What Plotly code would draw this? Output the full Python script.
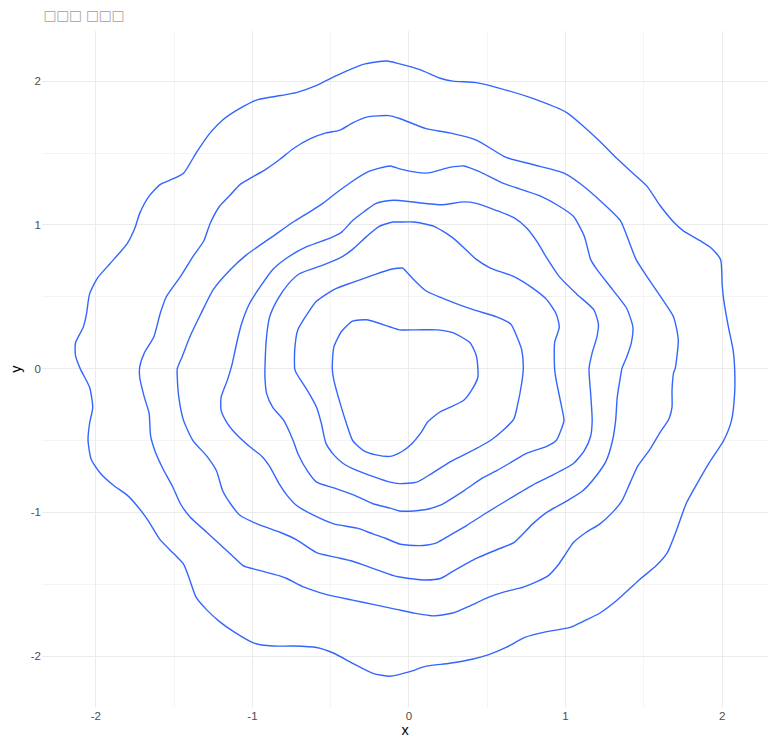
import plotly.graph_objects as go

# Contour levels (x, y) pairs, outermost first
contour_1 = [
    (-0.06, 2.12), (0.07, 2.08), (0.20, 2.02), (0.28, 2.00), (0.43, 1.99), (0.58, 1.95),
    (0.79, 1.88), (1.01, 1.78), (1.11, 1.69), (1.22, 1.58), (1.33, 1.46), (1.43, 1.36),
    (1.52, 1.27), (1.60, 1.14), (1.69, 1.02), (1.75, 0.96), (1.86, 0.89), (1.93, 0.84),
    (1.99, 0.76), (2.00, 0.59), (2.01, 0.48), (2.04, 0.29), (2.07, 0.13), (2.08, 0.00),
    (2.08, -0.17), (2.06, -0.36), (2.01, -0.50), (1.92, -0.65), (1.84, -0.80), (1.77, -0.94),
    (1.71, -1.12), (1.65, -1.28), (1.58, -1.37), (1.47, -1.47), (1.33, -1.61), (1.22, -1.70),
    (1.11, -1.76), (1.03, -1.80), (0.88, -1.83), (0.74, -1.87), (0.62, -1.94), (0.51, -1.99),
    (0.41, -2.02), (0.26, -2.05), (0.11, -2.07), (0.00, -2.11),
    (-0.12, -2.14), (-0.23, -2.12), (-0.36, -2.05), (-0.48, -1.98), (-0.59, -1.94), (-0.74, -1.93),
    (-0.87, -1.93), (-0.99, -1.91), (-1.12, -1.83), (-1.21, -1.76), (-1.29, -1.68), (-1.36, -1.59),
    (-1.40, -1.47), (-1.44, -1.36), (-1.50, -1.29), (-1.59, -1.19), (-1.67, -1.05), (-1.74, -0.95),
    (-1.80, -0.88), (-1.89, -0.81), (-1.97, -0.73), (-2.03, -0.63), (-2.05, -0.50), (-2.04, -0.38),
    (-2.02, -0.27), (-2.04, -0.13), (-2.10, 0.00),
    (-2.13, 0.09), (-2.13, 0.18), (-2.08, 0.29), (-2.06, 0.38), (-2.04, 0.52), (-1.99, 0.63),
    (-1.91, 0.73), (-1.80, 0.87), (-1.75, 0.98), (-1.72, 1.08), (-1.66, 1.20), (-1.59, 1.28),
    (-1.53, 1.31), (-1.44, 1.36), (-1.36, 1.50), (-1.27, 1.64), (-1.19, 1.73), (-1.08, 1.81),
    (-0.97, 1.87), (-0.82, 1.90), (-0.72, 1.92), (-0.59, 1.97), (-0.50, 2.02), (-0.40, 2.07),
    (-0.28, 2.12), (-0.14, 2.14),
]

contour_2 = [
    (-0.06, 1.74), (0.11, 1.67), (0.26, 1.64), (0.43, 1.59), (0.62, 1.47), (0.79, 1.42),
    (0.99, 1.36), (1.09, 1.29), (1.22, 1.17), (1.35, 1.03), (1.41, 0.87), (1.45, 0.76),
    (1.52, 0.64), (1.62, 0.48), (1.69, 0.36), (1.72, 0.20), (1.70, 0.00),
    (1.69, -0.03), (1.68, -0.15), (1.68, -0.27), (1.66, -0.35), (1.60, -0.45), (1.54, -0.56),
    (1.46, -0.68), (1.41, -0.80), (1.36, -0.92), (1.30, -1.00), (1.22, -1.08), (1.13, -1.14),
    (1.05, -1.21), (1.00, -1.29), (0.95, -1.37), (0.89, -1.44), (0.82, -1.48), (0.73, -1.52),
    (0.62, -1.55), (0.51, -1.59), (0.39, -1.65), (0.28, -1.70), (0.16, -1.72), (0.03, -1.70),
    (-0.08, -1.675),
    (-0.23, -1.64), (-0.36, -1.61), (-0.53, -1.57), (-0.67, -1.52), (-0.78, -1.46),
    (-0.83, -1.44), (-0.97, -1.40), (-1.06, -1.37), (-1.13, -1.30), (-1.21, -1.22), (-1.29, -1.14),
    (-1.40, -1.03), (-1.46, -0.94), (-1.51, -0.82), (-1.57, -0.70), (-1.62, -0.58), (-1.65, -0.47),
    (-1.66, -0.31), (-1.69, -0.20), (-1.72, -0.06),
    (-1.72, 0.01), (-1.69, 0.11), (-1.63, 0.22), (-1.59, 0.38), (-1.55, 0.50), (-1.46, 0.64),
    (-1.38, 0.78), (-1.31, 0.89), (-1.27, 1.01), (-1.21, 1.13), (-1.14, 1.21), (-1.08, 1.28),
    (-1.02, 1.32), (-0.91, 1.39), (-0.82, 1.46), (-0.74, 1.53), (-0.63, 1.60), (-0.53, 1.64),
    (-0.44, 1.66), (-0.36, 1.71), (-0.27, 1.75), (-0.13, 1.76),
]

contour_3 = [
    (-0.06, 1.39), (0.11, 1.36), (0.26, 1.40), (0.35, 1.41), (0.45, 1.37), (0.60, 1.29),
    (0.84, 1.20), (0.96, 1.13), (1.05, 1.06), (1.12, 0.92), (1.16, 0.76), (1.20, 0.69),
    (1.30, 0.55), (1.39, 0.42), (1.43, 0.29), (1.42, 0.18), (1.39, 0.08), (1.36, 0.00),
    (1.35, -0.06), (1.33, -0.20), (1.32, -0.36), (1.30, -0.50), (1.26, -0.64), (1.20, -0.74),
    (1.11, -0.85), (1.01, -0.92), (0.88, -1.00), (0.79, -1.08), (0.67, -1.21), (0.56, -1.26),
    (0.43, -1.32), (0.28, -1.41), (0.20, -1.46), (0.10, -1.47), (-0.06, -1.45),
    (-0.10, -1.44), (-0.23, -1.39), (-0.36, -1.34), (-0.48, -1.31), (-0.59, -1.28), (-0.72, -1.19),
    (-0.82, -1.14), (-0.97, -1.08), (-1.08, -1.02), (-1.14, -0.94), (-1.19, -0.85), (-1.23, -0.71),
    (-1.29, -0.61), (-1.38, -0.50), (-1.44, -0.36), (-1.47, -0.20), (-1.48, -0.06),
    (-1.48, 0.00), (-1.45, 0.08), (-1.40, 0.22), (-1.33, 0.38), (-1.25, 0.55), (-1.14, 0.69),
    (-1.04, 0.79), (-0.87, 0.92), (-0.74, 1.02), (-0.65, 1.08), (-0.55, 1.15), (-0.48, 1.21),
    (-0.38, 1.29), (-0.26, 1.37), (-0.12, 1.41),
]

contour_4 = [
    (-0.06, 1.17), (0.20, 1.14), (0.35, 1.16), (0.43, 1.15), (0.56, 1.10), (0.67, 1.05),
    (0.75, 0.98), (0.82, 0.88), (0.88, 0.77), (0.96, 0.64), (1.07, 0.52), (1.18, 0.41),
    (1.21, 0.31), (1.20, 0.22), (1.17, 0.11), (1.15, 0.00),
    (1.16, -0.17), (1.17, -0.36), (1.16, -0.47), (1.12, -0.57), (1.05, -0.66), (0.90, -0.75),
    (0.79, -0.81), (0.65, -0.90), (0.47, -1.02), (0.37, -1.09), (0.26, -1.16), (0.18, -1.21),
    (0.09, -1.23), (0.03, -1.23), (-0.06, -1.22),
    (-0.15, -1.18), (-0.23, -1.15), (-0.33, -1.11), (-0.48, -1.08), (-0.59, -1.03), (-0.72, -0.95),
    (-0.78, -0.88), (-0.83, -0.80), (-0.89, -0.68), (-0.94, -0.61), (-1.02, -0.54), (-1.10, -0.46),
    (-1.16, -0.38), (-1.20, -0.29), (-1.20, -0.20), (-1.16, -0.08), (-1.13, 0.03),
    (-1.10, 0.18), (-1.07, 0.31), (-1.02, 0.45), (-0.95, 0.57), (-0.87, 0.69), (-0.78, 0.77),
    (-0.65, 0.85), (-0.50, 0.91), (-0.43, 0.95), (-0.36, 1.03), (-0.29, 1.09), (-0.21, 1.15),
    (-0.12, 1.17),
]

contour_5 = [
    (-0.06, 1.02), (0.03, 1.02), (0.16, 0.99), (0.28, 0.91), (0.39, 0.80), (0.43, 0.76),
    (0.52, 0.70), (0.67, 0.64), (0.79, 0.56), (0.88, 0.48), (0.94, 0.38), (0.96, 0.29),
    (0.93, 0.18), (0.93, 0.00),
    (0.94, -0.08), (0.97, -0.24), (0.99, -0.36), (0.97, -0.43), (0.94, -0.50), (0.88, -0.54),
    (0.75, -0.59), (0.67, -0.64), (0.56, -0.71), (0.47, -0.76), (0.35, -0.85), (0.20, -0.95),
    (0.11, -0.98), (0.03, -0.99), (-0.06, -0.99),
    (-0.12, -0.97), (-0.23, -0.94), (-0.33, -0.89), (-0.48, -0.83), (-0.59, -0.79), (-0.65, -0.71),
    (-0.71, -0.59), (-0.74, -0.50), (-0.80, -0.36), (-0.87, -0.27), (-0.91, -0.17), (-0.92, -0.06),
    (-0.92, 0.00), (-0.91, 0.22), (-0.89, 0.36), (-0.84, 0.48), (-0.77, 0.59), (-0.70, 0.66),
    (-0.55, 0.72), (-0.44, 0.77), (-0.36, 0.83), (-0.27, 0.92), (-0.19, 0.99), (-0.10, 1.02),
]

contour_6 = [
    (-0.04, 0.70), (0.03, 0.62), (0.11, 0.54), (0.26, 0.47), (0.41, 0.41), (0.56, 0.36),
    (0.65, 0.31), (0.69, 0.22), (0.72, 0.13), (0.73, 0.00),
    (0.72, -0.10), (0.69, -0.27), (0.67, -0.35), (0.61, -0.42), (0.52, -0.50), (0.37, -0.59),
    (0.26, -0.65), (0.13, -0.74), (0.05, -0.79), (-0.06, -0.80),
    (-0.12, -0.79), (-0.23, -0.75), (-0.33, -0.71), (-0.42, -0.66), (-0.48, -0.60), (-0.53, -0.52),
    (-0.56, -0.38), (-0.59, -0.27), (-0.65, -0.15), (-0.72, -0.03),
    (-0.73, 0.00), (-0.73, 0.13), (-0.71, 0.27), (-0.65, 0.38), (-0.59, 0.47), (-0.48, 0.55),
    (-0.36, 0.60), (-0.23, 0.65), (-0.12, 0.69), (-0.05, 0.70),
]

contour_7 = [
    (-0.06, 0.27), (0.05, 0.27), (0.18, 0.27), (0.28, 0.25), (0.39, 0.18), (0.43, 0.09),
    (0.44, 0.00), (0.44, -0.06), (0.40, -0.15), (0.35, -0.22), (0.26, -0.27), (0.20, -0.30),
    (0.12, -0.37), (0.08, -0.44), (0.02, -0.52), (-0.05, -0.58),
    (-0.12, -0.61), (-0.21, -0.60), (-0.29, -0.57), (-0.36, -0.50), (-0.40, -0.38),
    (-0.44, -0.24), (-0.48, -0.08), (-0.49, 0.00), (-0.48, 0.15), (-0.43, 0.26), (-0.36, 0.33),
    (-0.27, 0.34), (-0.12, 0.29),
]

contours = [contour_1, contour_2, contour_3, contour_4, contour_5, contour_6, contour_7]

x_ticks = [-2, -1, 0, 1, 2]
x_tick_labels = ["-2", "-1", "0", "1", "2"]
y_ticks = [-2, -1, 0, 1, 2]
y_tick_labels = ["-2", "-1", "0", "1", "2"]

title_text = "□□□ □□□"

fig = go.Figure()
for c in contours:
    pts = c + [c[0]]
    fig.add_trace(go.Scatter(
        x=[p[0] for p in pts], y=[p[1] for p in pts],
        mode="lines",
        line=dict(color="#3366FF", width=1.4, shape="spline", smoothing=0.6),
        hoverinfo="skip", showlegend=False,
    ))

axis_common = dict(
    showline=False, zeroline=False, ticks="", automargin=False,
    showgrid=True, gridcolor="#EBEBEB", gridwidth=1.1,
    tickfont=dict(family="Liberation Sans, Arial, sans-serif", size=11.5, color="#4D4D4D"),
    minor=dict(dtick=0.5, showgrid=True, gridcolor="#F4F4F4", gridwidth=0.6, ticks=""),
)

# The page body adds an 8px offset, so margins are shifted to compensate
fig.update_layout(
    width=776, height=749,
    margin=dict(l=34, r=16, t=23, b=50),
    paper_bgcolor="white", plot_bgcolor="white",
    title=dict(text=title_text, x=0.002, xref="paper", xanchor="left",
               y=1 - 3.0 / 749, yref="container", yanchor="top", pad=dict(t=0, b=0),
               font=dict(family="DejaVu Sans, sans-serif", size=13.5, color="#A0A0A0")),
    xaxis=dict(range=[-2.344, 2.293], tickvals=x_ticks, ticktext=x_tick_labels,
               title=dict(text="x", standoff=4,
                          font=dict(family="Liberation Sans, Arial, sans-serif", size=14.5, color="black")),
               **axis_common),
    yaxis=dict(range=[-2.354, 2.349], tickvals=y_ticks, ticktext=y_tick_labels,
               title=dict(text="y", standoff=6,
                          font=dict(family="Liberation Sans, Arial, sans-serif", size=14.5, color="black")),
               **axis_common),
)

fig.write_html("out.html")
